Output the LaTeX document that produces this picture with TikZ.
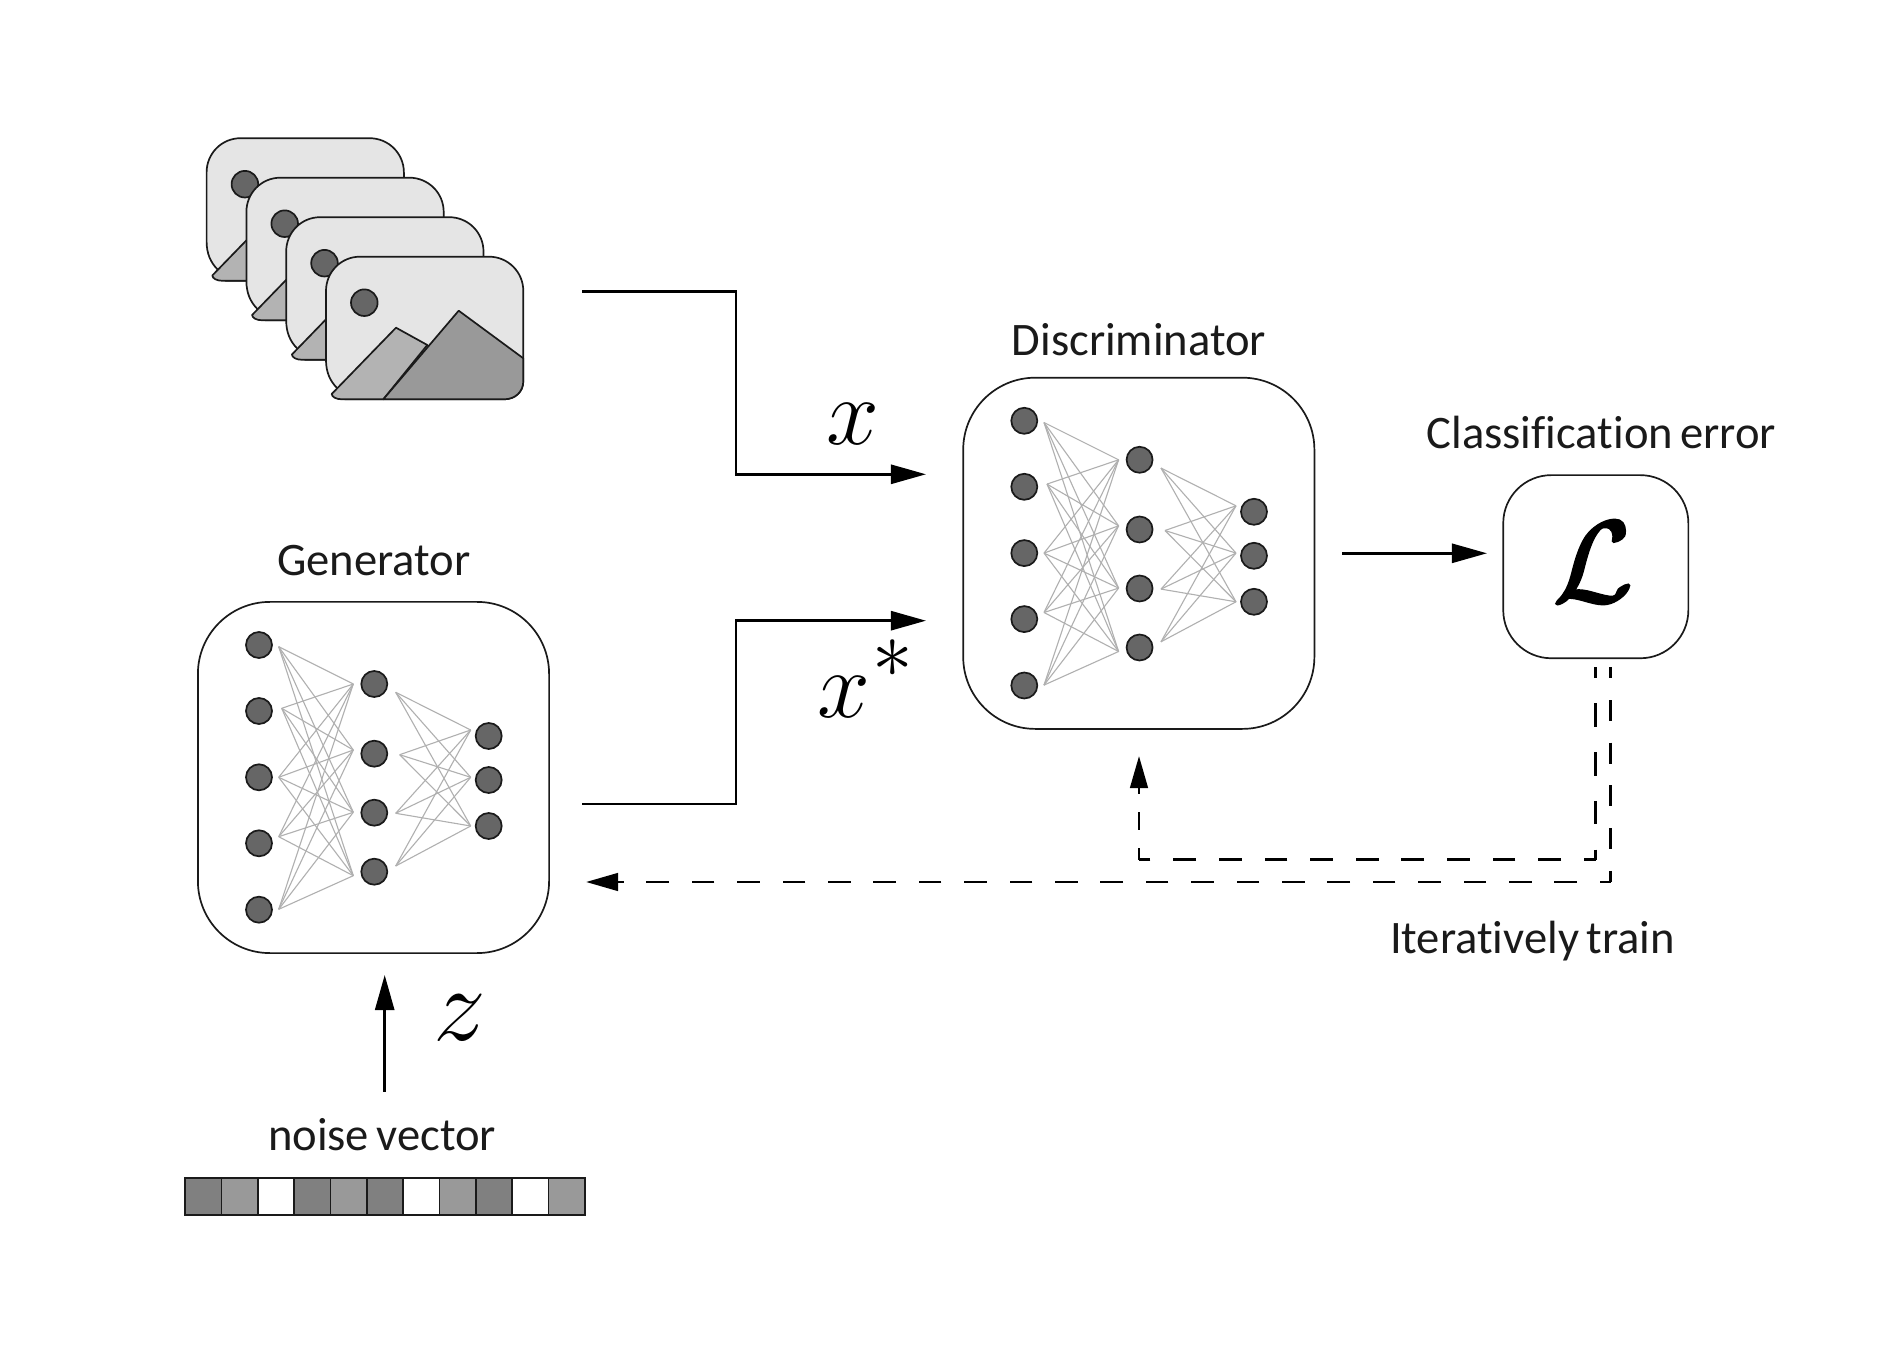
\documentclass[tikz,border=0pt]{standalone}
\usepackage{fix-cm}
\usepackage{amsmath}
\usepackage{fontspec}
\setmainfont{Carlito}[Ligatures=NoCommon,WordSpace=0.7]
\usetikzlibrary{arrows.meta,positioning,calc}
\definecolor{ganink}{HTML}{1A1A1A}
\definecolor{gandot}{HTML}{666666}
\definecolor{ganwire}{HTML}{B0B0B0}
\definecolor{gansky}{HTML}{E5E5E5}
\definecolor{ganhill}{HTML}{B3B3B3}
\definecolor{ganpeak}{HTML}{999999}
\definecolor{gancell}{HTML}{808080}

\begin{document}
\begin{tikzpicture}[
    x=0.01cm,
    y=-0.01cm,
    netbox/.style={
        draw=ganink,
        fill=white,
        rounded corners=0.72cm,
        minimum size=3.51cm,
        inner sep=0pt,
        outer sep=0pt,
        line width=0.017cm
    },
    lossbox/.style={
        draw=ganink,
        fill=white,
        rounded corners=0.48cm,
        minimum width=1.85cm,
        minimum height=1.83cm,
        inner sep=0pt,
        outer sep=0pt,
        line width=0.017cm
    },
    unit/.style={
        circle,
        draw=ganink,
        fill=gandot,
        minimum size=0.26cm,
        inner sep=0pt,
        line width=0.017cm
    },
    wire/.style={draw=ganwire,line width=0.011cm},
    card/.style={draw=ganink,line width=0.017cm,line join=round},
    cell/.style={
        draw=ganink,
        minimum width=0.364cm,
        minimum height=0.367cm,
        inner sep=0pt,
        outer sep=0pt,
        line width=0.017cm
    },
    caption/.style={text=ganink,inner sep=0pt,font=\fontsize{13.25}{16}\selectfont},
    symbol/.style={text=black,inner sep=0pt,font=\fontsize{27}{30}\selectfont},
    flow/.style={
        -{Triangle[length=0.35cm,width=0.19cm]},
        line width=0.027cm,
        line join=miter,
        black
    },
    trainline/.style={line width=0.029cm,black},
    trainarrow/.style={
        trainline,
        -{Triangle[length=0.32cm,width=0.175cm]}
    }
]

\useasboundingbox (0,0) rectangle (1884,1346);

% Stack of training images
\foreach \k in {3,2,1,0} {
    \begin{scope}[shift={(-39.8*\k,-39.5*\k)}]
        \draw[card,fill=gansky]
            (337,388) .. controls (330,381) and (326,372) .. (326,360) -- (326,291)
            .. controls (326,272) and (341,256.7) .. (360,256.7) -- (489,256.7)
            .. controls (508,256.7) and (523.3,272) .. (523.3,291) -- (523.3,381)
            .. controls (523.3,392) and (515,399.3) .. (504,399.3) -- (345,399.3) -- cycle;
        \draw[card,fill=gandot] (364.3,302.7) circle (13.3);
        \draw[card,fill=ganhill]
            (331.7,394) -- (396,327.7) -- (427.3,345) -- (383.3,399.3) -- (342,399.3)
            .. controls (336,399.3) and (332,397) .. (331.7,394) -- cycle;
        \draw[card,fill=ganpeak]
            (383.3,399.3) -- (458.7,310.7) -- (523.3,358.3) -- (523.3,381)
            .. controls (523.3,392) and (515,399.3) .. (504,399.3) -- cycle;
    \end{scope}
}

% Generator and discriminator networks
\foreach \net/\dx/\dy in {gen/0/0,disc/765.3/-224.2} {
    \begin{scope}[shift={(\dx,\dy)}]
        \node[netbox] (\net) at (373.5,777.5) {};
        \foreach \y [count=\i] in {645,711,777.3,843.3,909.7}
            \node[unit] (\net a\i) at (259,\y) {};
        \foreach \y [count=\i] in {684,753.7,812.7,871.7}
            \node[unit] (\net b\i) at (374.3,\y) {};
        \foreach \y [count=\i] in {736,780,826}
            \node[unit] (\net c\i) at (488.7,\y) {};
        \foreach \x/\y [count=\i] in {278.7/646.7,281.7/708.3,278.7/777.3,278.7/836.7,278.7/909.3}
            \coordinate (\net aout\i) at (\x,\y);
        \foreach \y [count=\i] in {684,750,812.3,875.7}
            \coordinate (\net bin\i) at (353.3,\y);
        \foreach \x/\y [count=\i] in {395.7/692.3,399.7/754.7,395.7/813.3,395.7/866}
            \coordinate (\net bout\i) at (\x,\y);
        \foreach \y [count=\i] in {730,777.3,826}
            \coordinate (\net cin\i) at (470.7,\y);
        \foreach \i in {1,...,5}
            \foreach \j in {1,...,4}
                \draw[wire] (\net aout\i) -- (\net bin\j);
        \foreach \i in {1,...,4}
            \foreach \j in {1,...,3}
                \draw[wire] (\net bout\i) -- (\net cin\j);
    \end{scope}
}

% Loss
\node[lossbox] (loss) at (1595.8,566.7) {};
\node[symbol,font=\fontsize{33}{36}\selectfont] (lossname) at (1593,562)
    {\special{pdf:code 2 Tr 0.7 w}$\mathcal{L}$\special{pdf:code 0 Tr 1 w}};

% Noise vector
\foreach \shade [count=\i] in {gancell,ganpeak,white,gancell,ganpeak,gancell,white,ganpeak,gancell,white,ganpeak}
    \node[cell,fill=\shade] (cell\i) at ({185+18.2+36.36*(\i-1)},1196.6) {};

% Captions
\node[caption] (disclabel) at (1139,340) {Discriminator};
\node[caption] (losslabel) at (1601.5,432) {Classification error};
\node[caption] (genlabel) at (373.7,561) {Generator};
\node[caption] (noiselabel) at (382,1135) {noise vector};
\node[caption] (trainlabel) at (1532.5,941) {Iteratively train};
\node[symbol] (xreal) at (853,424) {$x$};
\node[symbol] (xfake) at (844,697) {$x$};
\node[symbol,font=\fontsize{33}{36}\selectfont] (xstar) at (892.7,659) {$\scriptstyle *$};
\node[symbol,font=\fontsize{30}{33}\selectfont] (zname) at (460,1018) {$z$};

% Free ends of the connectors
\coordinate (imgout) at (582.3,291.7);
\coordinate (genout) at (582.3,804);
\coordinate (discinreal) at (926,474.3);
\coordinate (discinfake) at (926,620.7);
\coordinate (discout) at (1342.3,553.3);
\coordinate (lossin) at (1487,553.3);
\coordinate (noiseout) at (384.7,1091.7);
\coordinate (genin) at (384.7,975);
\coordinate (lossinner) at (1595.7,667.3);
\coordinate (innercorner) at (1595.7,859.7);
\coordinate (disccorner) at (1139,859.7);
\coordinate (disctrain) at (1139,756);
\coordinate (lossouter) at (1610.7,667.3);
\coordinate (outercorner) at (1610.7,882);
\coordinate (gentrain) at (586,882);

% Main flow
\draw[flow] (imgout) -- ++(153.7,0) |- (discinreal);
\draw[flow] (genout) -- ++(153.7,0) |- (discinfake);
\draw[flow] (discout) -- (lossin);
\draw[flow] (noiseout) -- (genin);

% Training signals going back
\draw[trainline,dash pattern=on 0.237cm off 0.25cm,dash phase=0.127cm] (lossinner) -- (innercorner);
\draw[trainline,dash pattern=on 0.228cm off 0.228cm,dash phase=0.11cm] (innercorner) -- (disccorner);
\draw[trainarrow,dash pattern=on 0.18cm off 0.18cm,dash phase=0.063cm] (disccorner) -- (disctrain);
\draw[trainline,dash pattern=on 0.21cm off 0.217cm,dash phase=0.1cm] (lossouter) -- (outercorner);
\draw[trainarrow,dash pattern=on 0.227cm off 0.2267cm,dash phase=0.117cm] (outercorner) -- (gentrain);

\end{tikzpicture}
\end{document}
